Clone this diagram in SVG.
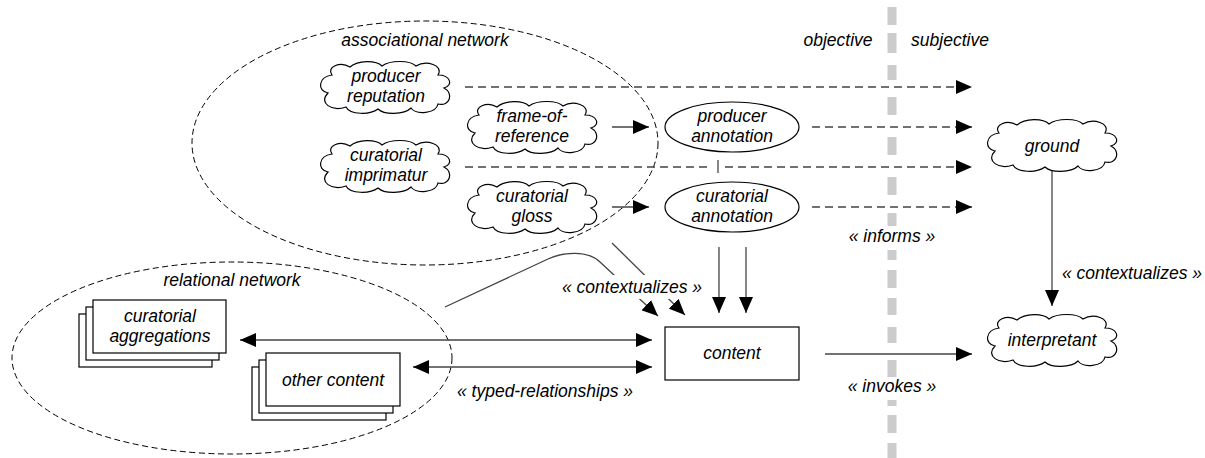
<svg xmlns="http://www.w3.org/2000/svg" xmlns:xlink="http://www.w3.org/1999/xlink" width="1205" height="458" viewBox="0 0 1205 458">
<style>
text{font-family:"Liberation Sans",Arial,sans-serif;font-style:italic;font-size:17.5px;fill:#000;text-anchor:middle}
.node{fill:#fff;stroke:#000;stroke-width:1.2}
.region{fill:none;stroke:#000;stroke-width:1;stroke-dasharray:6 3.5}
.conn{fill:none;stroke:#444;stroke-width:1.3}
.dash{stroke-dasharray:8 5}
.arr{marker-end:url(#ah)}
.bi{marker-start:url(#ahs);marker-end:url(#ah)}
.divider{fill:none;stroke:#cccccc;stroke-width:9}
</style>
<defs>
<marker id="ah" markerUnits="userSpaceOnUse" markerWidth="16" markerHeight="14" refX="16" refY="7" orient="auto"><path d="M0,0 L16,7 L0,14 Z" fill="#000"/></marker>
<marker id="ahs" markerUnits="userSpaceOnUse" markerWidth="16" markerHeight="14" refX="16" refY="7" orient="auto-start-reverse"><path d="M0,0 L16,7 L0,14 Z" fill="#000"/></marker>
<path id="cloud" class="node" d="M14,14 C8,6 22,0 32,6 C40,-1 58,-1 64,5 C72,-1 92,-1 98,5 C108,-1 126,4 120,14 C132,14 136,24 126,27 C136,32 132,46 120,43 C118,53 98,54 93,47 C86,54 66,54 60,48 C52,54 32,54 28,46 C14,51 0,42 10,32 C-1,30 0,16 14,14 Z"/>
</defs>

<g id="regions">
<ellipse class="region" cx="425" cy="143" rx="233" ry="122"/>
<text x="425" y="46">associational network</text>
<ellipse class="region" cx="232" cy="358" rx="220" ry="96"/>
<text x="232" y="286">relational network</text>
</g>

<g id="divider">
<path class="divider" d="M892,7 V25 M892,33 V53 M892,65 V80 M892,97 V115 M892,137 V155 M892,177 V195 M892,213 V226 M892,250 V260 M892,270 V288 M892,298 V315 M892,327 V343 M892,360 V377 M892,400 V406 M892,415 V433 M892,443 V458"/>
<text x="838" y="46">objective</text>
<text x="950" y="46">subjective</text>
</g>

<g id="connectors">
<path class="conn dash arr" d="M465,87 L972,87"/>
<path class="conn dash arr" d="M812,127 L972,127"/>
<path class="conn dash" d="M465,167 L710,167"/>
<path class="conn dash arr" d="M725,167 L972,167"/>
<path class="conn dash arr" d="M812,207 L972,207"/>
<path class="conn" d="M718,160 L718,173"/>
<path class="conn arr" d="M612,127 L649,127"/>
<path class="conn arr" d="M612,207 L649,207"/>
<path class="conn arr" d="M719,247 L719,313"/>
<path class="conn arr" d="M746,247 L746,313"/>
<path class="conn arr" d="M445,307 L548,259 C563,252 588,250 600,262 L658,316"/>
<path class="conn arr" d="M612,243 L685,315"/>
<path class="conn bi" d="M240,340 L652,340"/>
<path class="conn bi" d="M413,367 L652,367"/>
<path class="conn arr" d="M825,354 L972,354"/>
<path class="conn arr" d="M1052,160 L1052,306"/>
<rect x="560" y="275" width="142" height="24" fill="#fff"/>
<text x="632" y="293">« contextualizes »</text>
<text x="545" y="397">« typed-relationships »</text>
<text x="892" y="242">« informs »</text>
<text x="892" y="392">« invokes »</text>
<text x="1132" y="279">« contextualizes »</text>
</g>

<g id="producer-reputation">
<use xlink:href="#cloud" x="318" y="61"/>
<text x="386" y="82">producer</text>
<text x="386" y="102">reputation</text>
</g>
<g id="curatorial-imprimatur">
<use xlink:href="#cloud" x="318" y="140"/>
<text x="386" y="161">curatorial</text>
<text x="386" y="181">imprimatur</text>
</g>
<g id="frame-of-reference">
<use xlink:href="#cloud" x="465" y="101"/>
<text x="532" y="122">frame-of-</text>
<text x="532" y="142">reference</text>
</g>
<g id="curatorial-gloss">
<use xlink:href="#cloud" x="465" y="181"/>
<text x="532" y="202">curatorial</text>
<text x="532" y="222">gloss</text>
</g>
<g id="producer-annotation">
<ellipse class="node" cx="732" cy="127" rx="67" ry="25"/>
<text x="732" y="122">producer</text>
<text x="732" y="142">annotation</text>
</g>
<g id="curatorial-annotation">
<ellipse class="node" cx="732" cy="207" rx="67" ry="25"/>
<text x="732" y="202">curatorial</text>
<text x="732" y="222">annotation</text>
</g>
<g id="ground">
<use xlink:href="#cloud" x="985" y="119"/>
<text x="1052" y="152">ground</text>
</g>
<g id="interpretant">
<use xlink:href="#cloud" x="985" y="314"/>
<text x="1052" y="346">interpretant</text>
</g>
<g id="content">
<rect class="node" x="665" y="327" width="134" height="53"/>
<text x="732" y="359">content</text>
</g>
<g id="curatorial-aggregations">
<rect class="node" x="79" y="314" width="133" height="53"/>
<rect class="node" x="86" y="307" width="133" height="53"/>
<rect class="node" x="93" y="300" width="133" height="53"/>
<text x="160" y="322">curatorial</text>
<text x="160" y="342">aggregations</text>
</g>
<g id="other-content">
<rect class="node" x="252" y="367" width="134" height="53"/>
<rect class="node" x="259" y="360" width="134" height="53"/>
<rect class="node" x="266" y="353" width="134" height="53"/>
<text x="333" y="386">other content</text>
</g>
</svg>
